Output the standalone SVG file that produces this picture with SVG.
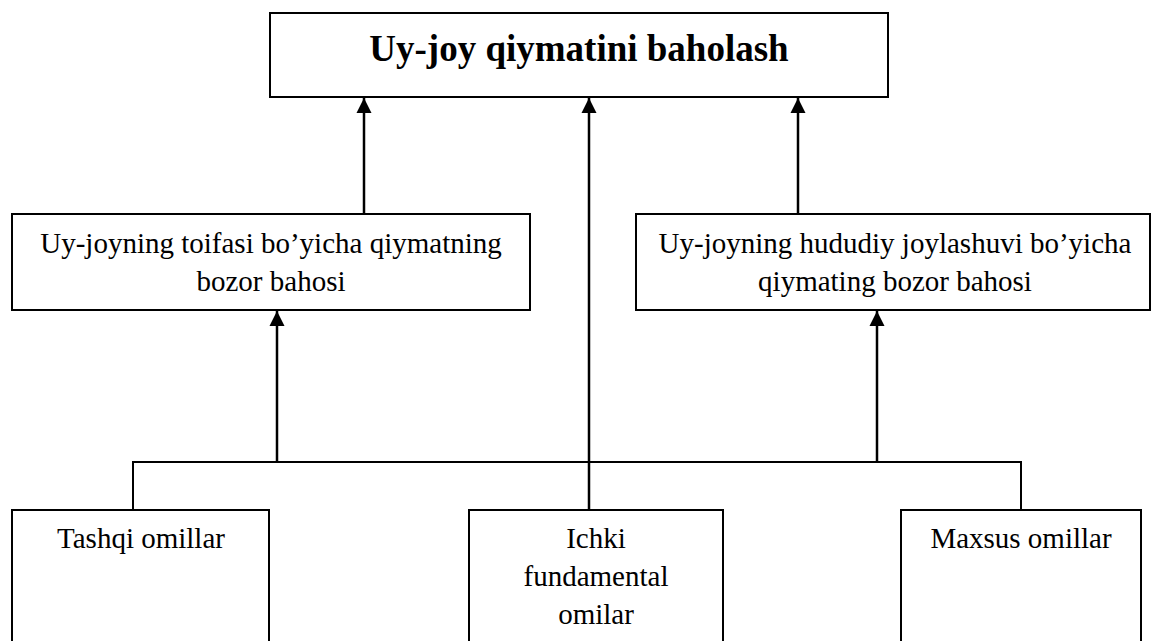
<svg xmlns="http://www.w3.org/2000/svg" width="1154" height="641" viewBox="0 0 1154 641">
  <style>
    .box { fill: #ffffff; stroke: #000000; stroke-width: 2; }
    .t { font-family: "Liberation Serif", "Times New Roman", serif; font-size: 29px; fill: #000000; text-anchor: middle; }
    .tb { font-family: "Liberation Serif", "Times New Roman", serif; font-size: 37px; font-weight: bold; fill: #000000; text-anchor: middle; }
    .ln { fill: none; stroke: #000000; stroke-width: 2; }
    .ar { fill: none; stroke: #000000; stroke-width: 2.5; marker-end: url(#arrow); }
  </style>
  <defs>
    <marker id="arrow" markerUnits="userSpaceOnUse" markerWidth="16" markerHeight="16" viewBox="0 0 16 16" refX="15" refY="8" orient="auto">
      <path d="M0,0.5 L15,8 L0,15.5 Z" fill="#000000"/>
    </marker>
  </defs>
  <rect width="1154" height="641" fill="#ffffff"/>

  <g id="connectors">
    <polyline class="ln" points="133,510 133,462 1021,462 1021,510"/>
    <line class="ar" x1="589" y1="510" x2="589" y2="98"/>
    <line class="ar" x1="277" y1="462" x2="277" y2="311"/>
    <line class="ar" x1="877" y1="462" x2="877" y2="311"/>
    <line class="ar" x1="364" y1="214" x2="364" y2="98"/>
    <line class="ar" x1="798" y1="214" x2="798" y2="98"/>
  </g>

  <g id="node-top">
    <rect class="box" x="270" y="13" width="618" height="84"/>
    <text class="tb" x="579" y="61">Uy-joy qiymatini baholash</text>
  </g>

  <g id="node-toifa">
    <rect class="box" x="12" y="214" width="518" height="96"/>
    <text class="t" x="271" y="253">Uy-joyning toifasi bo’yicha qiymatning</text>
    <text class="t" x="271" y="291">bozor bahosi</text>
  </g>

  <g id="node-hudud">
    <rect class="box" x="636" y="214" width="514" height="96"/>
    <text class="t" x="895" y="253">Uy-joyning hududiy joylashuvi bo’yicha</text>
    <text class="t" x="895" y="291">qiymating bozor bahosi</text>
  </g>

  <g id="node-tashqi">
    <rect class="box" x="12" y="510" width="257" height="140"/>
    <text class="t" x="141" y="548">Tashqi omillar</text>
  </g>

  <g id="node-ichki">
    <rect class="box" x="469" y="510" width="254" height="140"/>
    <text class="t" x="596" y="548">Ichki</text>
    <text class="t" x="596" y="586">fundamental</text>
    <text class="t" x="596" y="624">omilar</text>
  </g>

  <g id="node-maxsus">
    <rect class="box" x="901" y="510" width="240" height="140"/>
    <text class="t" x="1021" y="548">Maxsus omillar</text>
  </g>
</svg>
